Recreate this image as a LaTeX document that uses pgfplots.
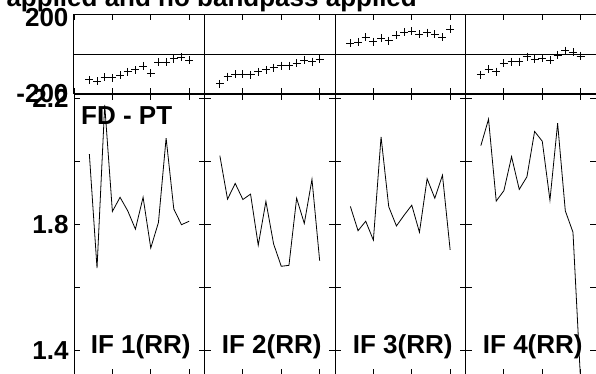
\documentclass[border=0pt]{standalone}
\usepackage{pgfplots}
\pgfplotsset{compat=1.18}
\usepackage{fontspec}
\setmainfont{Liberation Sans}
\newcommand{\bigbf}{\fontsize{26}{26}\selectfont\bfseries}
\pgfplotsset{
  panel/.style={
    scale only axis, width=130.5pt,
    xmin=0, xmax=17, xtick={0,5,10,15}, xticklabels={},
    tick align=inside, major tick length=6pt,
    minor tick num=0,
    tick style={black, line width=0.8pt},
    axis line style={black, line width=1pt},
    yticklabels={},
    clip=true,
    /pgf/number format/assume math mode=true,
    tick label style={font=\bigbf},
    yticklabel style={xshift=-2pt},
  },
  toppanel/.style={panel, anchor=south west, height=79.7pt,
    ymin=-200, ymax=200, ytick={-200,0,200},
    ymajorgrids, grid style={black, line width=0.8pt}},
  botpanel/.style={panel, anchor=south west, height=281pt,
    ymin=1.3229, ymax=2.2149, ytick={1.4,1.6,1.8,2.0,2.2}},
  pm/.style={black, only marks, mark=+, mark size=4pt, mark options={line width=0.8pt}},
  pl/.style={black, no marks, line width=0.8pt},
}
\begin{document}
\begin{tikzpicture}
% ---- top strips ----
\begin{axis}[toppanel, at={(74pt,280pt)}, yticklabels={-200,,\raisebox{-12pt}[0pt][0pt]{200}}]
\addplot[pm] coordinates {
(2,-129)(3,-136)(4,-116)(5,-119)(6,-106)(7,-89)(8,-79)(9,-59)(10,-96)(11,-41)(12,-41)(13,-23)(14,-16)(15,-29)};
\end{axis}
\begin{axis}[toppanel, at={(204.5pt,280pt)}]
\addplot[pm] coordinates {
(2,-149)(3,-113)(4,-101)(5,-101)(6,-104)(7,-89)(8,-79)(9,-68)(10,-58)(11,-59)(12,-46)(13,-29)(14,-38)(15,-26)};
\end{axis}
\begin{axis}[toppanel, at={(335pt,280pt)}]
\addplot[pm] coordinates {
(2,55)(3,61)(4,85)(5,63)(6,80)(7,68)(8,95)(9,110)(10,116)(11,100)(12,108)(13,101)(14,85)(15,126)};
\end{axis}
\begin{axis}[toppanel, at={(465.5pt,280pt)}]
\addplot[pm] coordinates {
(2,-104)(3,-76)(4,-88)(5,-46)(6,-38)(7,-38)(8,-13)(9,-26)(10,-21)(11,-29)(12,-4)(13,18)(14,10)(15,-9)};
\end{axis}
% ---- bottom panels ----
\begin{axis}[botpanel, at={(74pt,-1pt)}, yticklabels={1.4,,1.8,,2.2}]
\addplot[pl] coordinates {
(2,2.024)(3,1.662)(4,2.18)(5,1.842)(6,1.887)(7,1.844)(8,1.786)(9,1.887)(10,1.726)(11,1.807)(12,2.075)(13,1.850)(14,1.800)(15,1.811)};
\node[anchor=base west, font=\bigbf, inner sep=0pt] at (rel axis cs:0.054,0.89) {FD - PT};
\node[anchor=base west, font=\bigbf, inner sep=0pt] at (rel axis cs:0.128,0.075) {IF 1(RR)};
\end{axis}
\begin{axis}[botpanel, at={(204.5pt,-1pt)}]
\addplot[pl] coordinates {
(2,2.019)(3,1.881)(4,1.931)(5,1.880)(6,1.897)(7,1.735)(8,1.874)(9,1.739)(10,1.668)(11,1.671)(12,1.884)(13,1.804)(14,1.944)(15,1.686)};
\node[anchor=base west, font=\bigbf, inner sep=0pt] at (rel axis cs:0.132,0.075) {IF 2(RR)};
\end{axis}
\begin{axis}[botpanel, at={(335pt,-1pt)}]
\addplot[pl] coordinates {
(2,1.858)(3,1.781)(4,1.811)(5,1.751)(6,2.079)(7,1.857)(8,1.796)(9,1.830)(10,1.862)(11,1.776)(12,1.946)(13,1.884)(14,1.957)(15,1.720)};
\node[anchor=base west, font=\bigbf, inner sep=0pt] at (rel axis cs:0.135,0.075) {IF 3(RR)};
\end{axis}
\begin{axis}[botpanel, at={(465.5pt,-1pt)}]
\addplot[pl] coordinates {
(2,2.051)(3,2.135)(4,1.875)(5,1.908)(6,2.016)(7,1.912)(8,1.952)(9,2.096)(10,2.065)(11,1.878)(12,2.122)(13,1.844)(14,1.776)(15,1.30)};
\node[anchor=base west, font=\bigbf, inner sep=0pt] at (rel axis cs:0.132,0.075) {IF 4(RR)};
\end{axis}
% ---- title (cropped) ----
\node[anchor=base east, font=\bigbf, inner sep=0pt] at (417pt,367pt) {applied and no bandpass applied};
\pgfresetboundingbox
\path[use as bounding box] (0pt,0pt) rectangle (596pt,374pt);
\end{tikzpicture}
\end{document}
